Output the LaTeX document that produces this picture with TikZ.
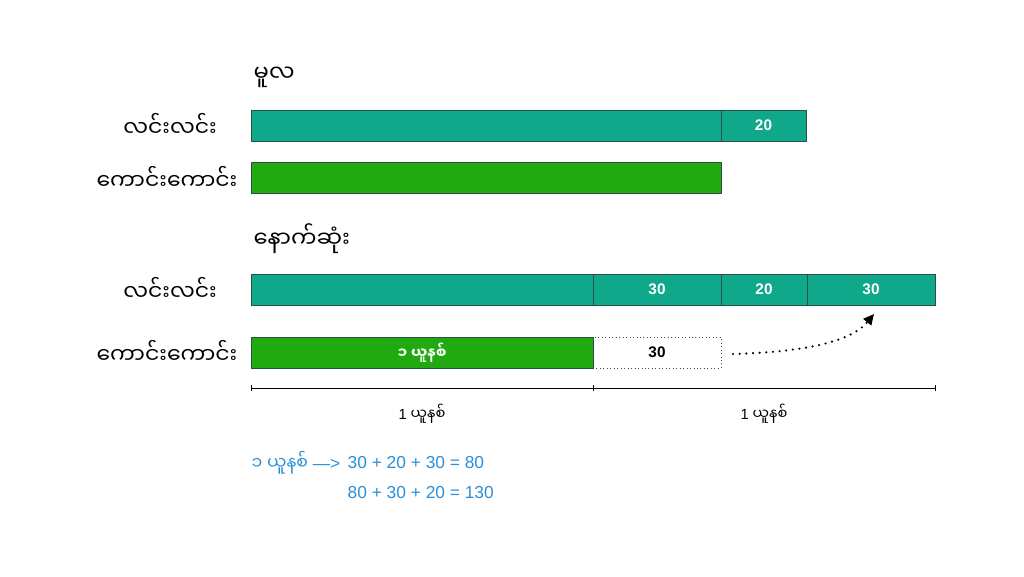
\documentclass[tikz,border=0pt]{standalone}
\usepackage{fontspec}
\setmainfont{Liberation Sans}
\newfontfamily\my[Script=Myanmar]{Noto Sans Myanmar UI}
\usetikzlibrary{fit,arrows.meta}
\definecolor{teal1}{RGB}{16,168,138}
\definecolor{green1}{RGB}{32,170,16}
\definecolor{edge1}{RGB}{40,80,70}
\definecolor{blue1}{RGB}{43,143,216}
\tikzset{
  seg/.style={inner sep=0pt, draw=edge1, line width=0.5pt},
  tealseg/.style={seg, fill=teal1},
  greenseg/.style={seg, fill=green1},
  dotbox/.style={inner sep=0pt, draw=black!70, dotted, line width=0.6pt},
  num/.style={text=white, font=\bfseries\fontsize{11.5}{13}\selectfont},
  rowlabel/.style={font=\my\fontsize{16.5}{20}\selectfont, anchor=center},
  head/.style={font=\my\fontsize{17}{20}\selectfont, anchor=west},
  unitlabel/.style={font=\fontsize{11}{12}\selectfont},
  bluetext/.style={text=blue1, font=\fontsize{13}{15}\selectfont, anchor=west},
}
\begin{document}
\begin{tikzpicture}[x=0.75pt,y=-0.75pt]
\useasboundingbox (0,0) rectangle (1024,576);
% headings
\node[head] (h1) at (249,77) {မူလ};
\node[head] (h2) at (249,239) {နောက်ဆုံး};
% row labels
\node[rowlabel] (l1) at (170,125) {လင်းလင်း};
\node[rowlabel] (l2) at (167,178) {ကောင်းကောင်း};
\node[rowlabel] (l3) at (170,289) {လင်းလင်း};
\node[rowlabel] (l4) at (167,352) {ကောင်းကောင်း};
% row 1
\node[tealseg, fit={(251,110) (721,141)}] (r1a) {};
\node[tealseg, fit={(721,110) (806,141)}] (r1b) {};
\node[num] (t1b) at (r1b.center) {20};
% row 2
\node[greenseg, fit={(251,162) (721,193)}] (r2a) {};
% row 3
\node[tealseg, fit={(251,274) (593,305)}] (r3a) {};
\node[tealseg, fit={(593,274) (721,305)}] (r3b) {};
\node[tealseg, fit={(721,274) (807,305)}] (r3c) {};
\node[tealseg, fit={(807,274) (935,305)}] (r3d) {};
\node[num] (t3b) at (r3b.center) {30};
\node[num] (t3c) at (r3c.center) {20};
\node[num] (t3d) at (r3d.center) {30};
% row 4
\node[greenseg, fit={(251,337) (593,368)}] (r4a) {};
\node[text=white, font=\my\bfseries\fontsize{11}{12}\selectfont] (t4a) at (r4a.center) {၁ ယူနစ်};
\node[dotbox, fit={(593,337) (721,368)}] (r4b) {};
\node[font=\bfseries\fontsize{11.5}{13}\selectfont] (t4b) at (r4b.center) {30};
% dotted arrow
\coordinate (as) at (733,354);
\coordinate (ae) at (874,314);
\draw[line width=1.8pt, line cap=round, dash pattern=on 0pt off 5pt, -{Triangle[length=8pt,width=7.5pt]}] (as) .. controls (800,352) and (850,343) .. (ae);
% axis
\coordinate (ax0) at (251,388);
\coordinate (ax1) at (593,388);
\coordinate (ax2) at (935,388);
\draw[line width=0.6pt] (ax0) -- (ax2);
\foreach \c in {ax0,ax1,ax2} \draw[line width=0.6pt] ([yshift=-2.5pt]\c) -- ([yshift=2.5pt]\c);
\node[unitlabel] (u1) at (422,414) {1 {\my ယူနစ်}};
\node[unitlabel] (u2) at (764,414) {1 {\my ယူနစ်}};
% blue formulas
\node[bluetext] (f0) at (247,463) {{\my ၁ ယူနစ်} —>};
\node[bluetext] (f1) at (343,463) {30 + 20 + 30 = 80};
\node[bluetext] (f2) at (343,493) {80 + 30 + 20 = 130};
\end{tikzpicture}
\end{document}
